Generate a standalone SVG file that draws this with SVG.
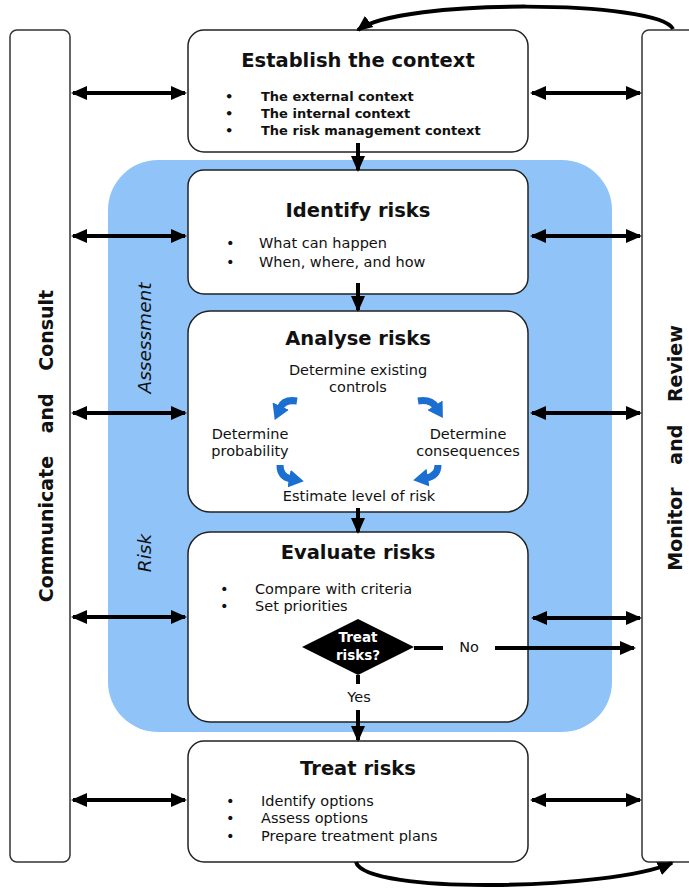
<svg xmlns="http://www.w3.org/2000/svg" width="689" height="888" viewBox="0 0 689 888">
<defs>
<style>
.box{fill:#fff;stroke:#222;stroke-width:1.5}
.bar{fill:#fff;stroke:#333;stroke-width:1.5}
.t{font-family:"DejaVu Sans",Verdana,sans-serif;fill:#111}
.title{font-size:19.5px;font-weight:bold;text-anchor:middle}
.body{font-size:14.5px}
.bb{font-size:13px;font-weight:bold}
.mid{text-anchor:middle}
.side{font-size:19px;font-weight:bold;text-anchor:middle}
.ital{font-size:18.5px;font-style:italic;text-anchor:middle}
.conn{fill:none;stroke:#000;stroke-width:4}
.blue{fill:none;stroke:#1a6fd0;stroke-width:7}
</style>
<marker id="ah" markerUnits="userSpaceOnUse" markerWidth="16" markerHeight="16" viewBox="0 0 16 16" refX="14" refY="8" orient="auto-start-reverse">
<path d="M0,1 L16,8 L0,15 Z" fill="#000"/>
</marker>
<marker id="bh" markerUnits="userSpaceOnUse" markerWidth="18" markerHeight="18" viewBox="0 0 18 18" refX="2" refY="9" orient="auto">
<path d="M0,0 L15,9 L0,18 Z" fill="#1a6fd0"/>
</marker>
</defs>
<rect width="689" height="888" fill="#fff"/>

<g id="assessment-region">
<rect x="108" y="160" width="504" height="572" rx="50" fill="#90c4f8"/>
<text class="t ital" transform="translate(151,338) rotate(-90)">Assessment</text>
<text class="t ital" transform="translate(151,553) rotate(-90)">Risk</text>
</g>

<g id="communicate">
<rect class="bar" x="10" y="30" width="60" height="832" rx="7"/>
<text class="t side" transform="translate(53,446) rotate(-90)" word-spacing="16">Communicate and Consult</text>
</g>

<g id="monitor">
<rect class="bar" x="642" y="30" width="60" height="832" rx="7"/>
<text class="t side" transform="translate(682,448) rotate(-90)" word-spacing="16">Monitor and Review</text>
</g>

<g id="establish">
<rect class="box" x="188" y="30" width="340" height="122" rx="16"/>
<text class="t title" x="358" y="67">Establish the context</text>
<text class="t bb" x="225" y="101">•</text>
<text class="t bb" x="261" y="101">The external context</text>
<text class="t bb" x="225" y="118">•</text>
<text class="t bb" x="261" y="118">The internal context</text>
<text class="t bb" x="225" y="135">•</text>
<text class="t bb" x="261" y="135">The risk management context</text>
</g>

<g id="identify">
<rect class="box" x="188" y="170" width="340" height="124" rx="16"/>
<text class="t title" x="358" y="217">Identify risks</text>
<text class="t body" x="226" y="248">•</text>
<text class="t body" x="259" y="248">What can happen</text>
<text class="t body" x="226" y="267">•</text>
<text class="t body" x="259" y="267">When, where, and how</text>
</g>

<g id="analyse">
<rect class="box" x="188" y="311" width="340" height="201" rx="22"/>
<text class="t title" x="358" y="345">Analyse risks</text>
<text class="t body mid" x="358" y="375">Determine existing</text>
<text class="t body mid" x="358" y="392">controls</text>
<text class="t body mid" x="250" y="439">Determine</text>
<text class="t body mid" x="250" y="456">probability</text>
<text class="t body mid" x="468" y="439">Determine</text>
<text class="t body mid" x="468" y="456">consequences</text>
<text class="t body mid" x="359" y="501">Estimate level of risk</text>
<path class="blue" d="M297,401 Q284,399 280,408" marker-end="url(#bh)"/>
<path class="blue" d="M418,401 Q431,399 436,407" marker-end="url(#bh)"/>
<path class="blue" d="M280,465 Q280,477 291,479" marker-end="url(#bh)"/>
<path class="blue" d="M438,465 Q438,476 426,478" marker-end="url(#bh)"/>
</g>

<g id="evaluate">
<rect class="box" x="188" y="532" width="340" height="190" rx="22"/>
<text class="t title" x="358" y="559">Evaluate risks</text>
<text class="t body" x="220" y="594">•</text>
<text class="t body" x="255" y="594">Compare with criteria</text>
<text class="t body" x="220" y="611">•</text>
<text class="t body" x="255" y="611">Set priorities</text>
</g>

<g id="decision">
<path d="M358,619 L414,647 L358,675 L302,647 Z" fill="#000"/>
<text class="t mid" x="358" y="642" style="font-size:13.5px;font-weight:bold;fill:#fff">Treat</text>
<text class="t mid" x="358" y="660" style="font-size:13.5px;font-weight:bold;fill:#fff">risks?</text>
<text class="t body mid" x="469" y="652">No</text>
<text class="t body mid" x="359" y="702">Yes</text>
</g>

<g id="treat">
<rect class="box" x="188" y="741" width="340" height="121" rx="16"/>
<text class="t title" x="358" y="775">Treat risks</text>
<text class="t body" x="226" y="806">•</text>
<text class="t body" x="261" y="806">Identify options</text>
<text class="t body" x="226" y="823">•</text>
<text class="t body" x="261" y="823">Assess options</text>
<text class="t body" x="226" y="841">•</text>
<text class="t body" x="261" y="841">Prepare treatment plans</text>
</g>

<g id="connectors">
<path class="conn" d="M73,93 H185" marker-start="url(#ah)" marker-end="url(#ah)"/>
<path class="conn" d="M73,236 H185" marker-start="url(#ah)" marker-end="url(#ah)"/>
<path class="conn" d="M73,413 H185" marker-start="url(#ah)" marker-end="url(#ah)"/>
<path class="conn" d="M73,617 H185" marker-start="url(#ah)" marker-end="url(#ah)"/>
<path class="conn" d="M73,800 H185" marker-start="url(#ah)" marker-end="url(#ah)"/>
<path class="conn" d="M532,93 H640" marker-start="url(#ah)" marker-end="url(#ah)"/>
<path class="conn" d="M532,236 H640" marker-start="url(#ah)" marker-end="url(#ah)"/>
<path class="conn" d="M532,413 H640" marker-start="url(#ah)" marker-end="url(#ah)"/>
<path class="conn" d="M533,618 H640" marker-start="url(#ah)" marker-end="url(#ah)"/>
<path class="conn" d="M532,800 H640" marker-start="url(#ah)" marker-end="url(#ah)"/>
<path class="conn" d="M358,143 V170" marker-end="url(#ah)"/>
<path class="conn" d="M358,283 V310" marker-end="url(#ah)"/>
<path class="conn" d="M358,508 V532" marker-end="url(#ah)"/>
<path class="conn" d="M358,675 V684"/>
<path class="conn" d="M358,710 V740" marker-end="url(#ah)"/>
<path class="conn" d="M414,648 H443"/>
<path class="conn" d="M495,648 H634" marker-end="url(#ah)"/>
<path class="conn" d="M673,29 C660,0 400,-2 358,30" marker-end="url(#ah)"/>
<path class="conn" d="M356,862 C365,895 610,890 672,863" marker-end="url(#ah)"/>
</g>
</svg>
